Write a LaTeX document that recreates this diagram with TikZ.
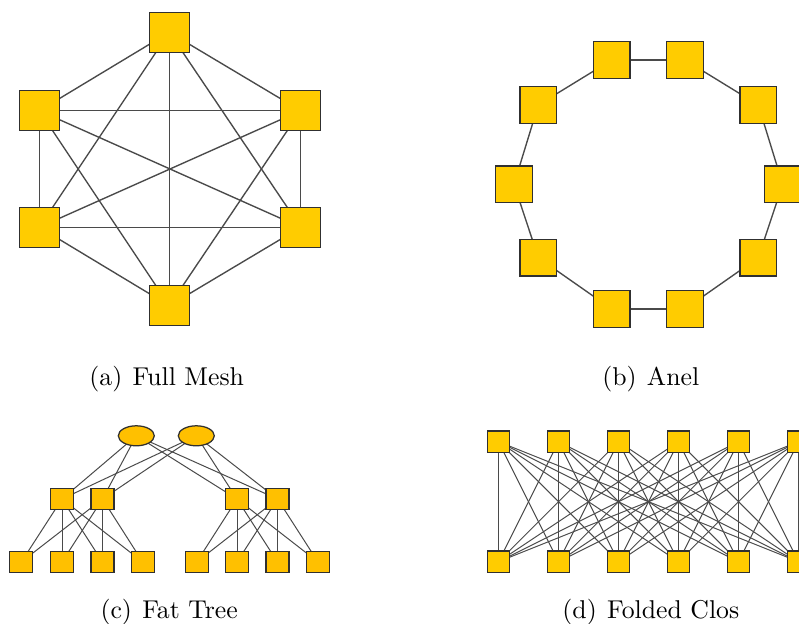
\documentclass[tikz,border=0pt]{standalone}
\usetikzlibrary{shapes.geometric}
\definecolor{nodegold}{HTML}{FFCC00}
\definecolor{treegold}{HTML}{FFC000}
\definecolor{edgegray}{HTML}{4A4A4A}
\definecolor{rimgray}{HTML}{303030}
\pgfdeclarelayer{back}
\pgfsetlayers{back,main}
\tikzset{
  box/.style={rectangle, draw=rimgray, line width=0.5pt, inner sep=0pt, outer sep=0pt},
  meshbox/.style={box, fill=nodegold, minimum size=16pt},
  ringbox/.style={box, fill=nodegold, minimum size=14.7pt},
  treebox/.style={box, fill=treegold, minimum width=9.2pt, minimum height=8.4pt},
  corenode/.style={ellipse, draw=rimgray, line width=0.5pt, fill=treegold, inner sep=0pt, outer sep=0pt, minimum width=14.4pt, minimum height=8pt},
  closbox/.style={box, fill=nodegold, minimum size=8.6pt},
  link/.style={draw=edgegray, line width=0.55pt},
  thinlink/.style={draw=edgegray, line width=0.4pt},
  caption/.style={anchor=base, inner sep=0pt, font=\fontsize{10.3}{12}\selectfont}
}
\begin{document}
\begin{tikzpicture}[x=0.4pt, y=-0.4pt]
\useasboundingbox (0,0) rectangle (799,624);

% ---- (a) full mesh of six switches
\node[meshbox] (mT)  at (169.3,32.3) {};
\node[meshbox] (mLT) at (39.3,110.7) {};
\node[meshbox] (mRT) at (300.7,110.7) {};
\node[meshbox] (mLB) at (39.3,227.3) {};
\node[meshbox] (mRB) at (300.7,227.3) {};
\node[meshbox] (mB)  at (169.3,305.7) {};
\begin{pgfonlayer}{back}
\foreach \a/\b in {mT/mLT, mT/mRT, mT/mLB, mT/mRB, mT/mB,
                   mLT/mRT, mLT/mLB, mLT/mRB, mLT/mB,
                   mRT/mLB, mRT/mRB, mRT/mB,
                   mLB/mRB, mLB/mB, mRB/mB}
  \path[link] (\a.center) -- (\b.center);
\end{pgfonlayer}
\node[caption] (capA) at (166.7,386) {(a)\hspace{0.4em}Full Mesh};

% ---- (b) ring of ten switches
\node[ringbox] (r1)  at (611.7,60) {};
\node[ringbox] (r2)  at (685,60) {};
\node[ringbox] (r3)  at (758.3,105) {};
\node[ringbox] (r4)  at (782.7,184.3) {};
\node[ringbox] (r5)  at (758.3,257.7) {};
\node[ringbox] (r6)  at (685,309) {};
\node[ringbox] (r7)  at (611.7,309) {};
\node[ringbox] (r8)  at (538.3,257.7) {};
\node[ringbox] (r9)  at (514,184.3) {};
\node[ringbox] (r10) at (538.3,105) {};
\begin{pgfonlayer}{back}
\foreach \a/\b in {r1/r2, r2/r3, r3/r4, r4/r5, r5/r6, r6/r7, r7/r8, r8/r9, r9/r10, r10/r1}
  \path[link] (\a.center) -- (\b.center);
\end{pgfonlayer}
\node[caption] (capB) at (650.8,386) {(b)\hspace{0.4em}Anel};

% ---- (c) fat tree: two cores, two pods
\node[corenode] (c1) at (136.3,435.8) {};
\node[corenode] (c2) at (196.3,435.8) {};
\node[treebox] (a1) at (62,499) {};
\node[treebox] (a2) at (102.5,499) {};
\node[treebox] (a3) at (237,499) {};
\node[treebox] (a4) at (277.5,499) {};
\node[treebox] (e1) at (21.3,562) {};
\node[treebox] (e2) at (62,562) {};
\node[treebox] (e3) at (102.5,562) {};
\node[treebox] (e4) at (142.7,562) {};
\node[treebox] (e5) at (196.7,562) {};
\node[treebox] (e6) at (237,562) {};
\node[treebox] (e7) at (277.5,562) {};
\node[treebox] (e8) at (318,562) {};
\begin{pgfonlayer}{back}
\foreach \c in {c1,c2}
  \foreach \a in {a1,a2,a3,a4}
    \path[thinlink] (\c.center) -- (\a.center);
\foreach \a in {a1,a2}
  \foreach \e in {e1,e2,e3,e4}
    \path[thinlink] (\a.center) -- (\e.center);
\foreach \a in {a3,a4}
  \foreach \e in {e5,e6,e7,e8}
    \path[thinlink] (\a.center) -- (\e.center);
\end{pgfonlayer}
\node[caption] (capC) at (169.2,618.5) {(c)\hspace{0.4em}Fat Tree};

% ---- (d) folded Clos: six spines, six leaves
\foreach \i in {0,...,5} {
  \node[closbox] (s\i) at ({498.5+60*\i},441.7) {};
  \node[closbox] (l\i) at ({498.5+60*\i},561.7) {};
}
\begin{pgfonlayer}{back}
\foreach \i in {0,...,5}
  \foreach \j in {0,...,5}
    \path[thinlink] (s\i.center) -- (l\j.center);
\end{pgfonlayer}
\node[caption] (capD) at (650.8,618.5) {(d)\hspace{0.4em}Folded Clos};
\end{tikzpicture}
\end{document}
